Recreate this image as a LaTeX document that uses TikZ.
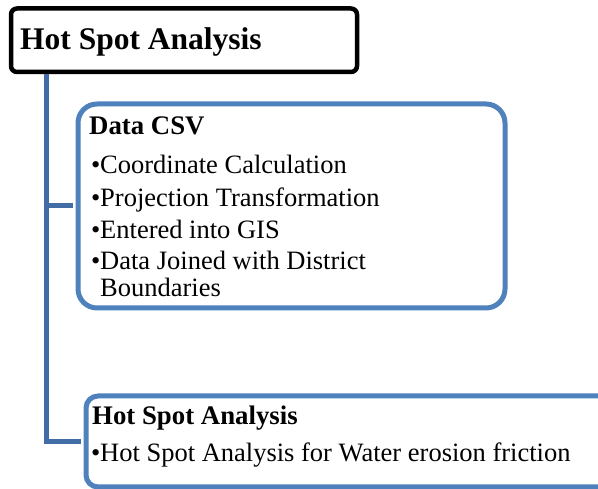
\documentclass[tikz,border=0pt]{standalone}
\usepackage{fontspec}
\setmainfont{Liberation Serif}
\definecolor{boxblue}{RGB}{79,129,189}
\definecolor{connblue}{RGB}{65,108,165}
\begin{document}
\begin{tikzpicture}[x=1pt,y=-1pt,
  bluebox/.style={draw=boxblue, line width=5pt, rounded corners=#1, fill=white, inner sep=0pt},
  conn/.style={draw=connblue, line width=5pt},
  titletxt/.style={anchor=base west, inner sep=0pt, font=\fontsize{31.5}{36}\selectfont\bfseries},
  headtxt/.style={anchor=base west, inner sep=0pt, font=\fontsize{26.8}{32}\selectfont\bfseries},
  itemtxt/.style={anchor=base west, inner sep=0pt, font=\fontsize{26.5}{27}\selectfont},
  bul/.style={anchor=base west, inner sep=0pt, font=\fontsize{26.5}{27}\selectfont}]
\useasboundingbox (0,0) rectangle (598,489);
\clip (0,0) rectangle (598,489);
% boxes (empty, positioned)
\coordinate (trunk) at (46.5,0);
\node[draw=black, line width=4.5pt, rounded corners=6pt, minimum width=346pt, minimum height=63.5pt, inner sep=0pt, fill=white] (top) at (184,40.25) {};
\node[bluebox=19pt, minimum width=427pt, minimum height=204pt] (csv) at (291.5,206) {};
\node[bluebox=12pt, minimum width=560pt, minimum height=91pt] (hs) at (366,441.5) {};
% connectors
\begin{scope}[on background layer/.try]
\end{scope}
\draw[conn] (top.south -| trunk) -- (trunk |- hs.west) -- ([xshift=-2.5pt]hs.west);
\draw[conn] (trunk |- csv.west) -- ([xshift=-2.5pt]csv.west);
% texts
\node[titletxt] (t0) at (20,50) {Hot Spot Analysis};
\node[headtxt] (h1) at (89,135) {Data CSV};
\node[bul] (b1) at (91,174) {•};
\node[itemtxt] (i1) at (100,174) {Coordinate Calculation};
\node[bul] (b2) at (91,206.5) {•};
\node[itemtxt] (i2) at (100,206.5) {Projection Transformation};
\node[bul] (b3) at (91,239) {•};
\node[itemtxt] (i3) at (100,239) {Entered into GIS};
\node[bul] (b4) at (91,270) {•};
\node[itemtxt] (i4) at (100,270) {Data Joined with District};
\node[itemtxt] (i5) at (100,297) {Boundaries};
\node[headtxt] (h2) at (92,425) {Hot Spot Analysis};
\node[bul] (b6) at (91,462) {•};
\node[itemtxt] (i6) at (100,462) {Hot Spot Analysis for Water erosion friction};
\end{tikzpicture}
\end{document}
